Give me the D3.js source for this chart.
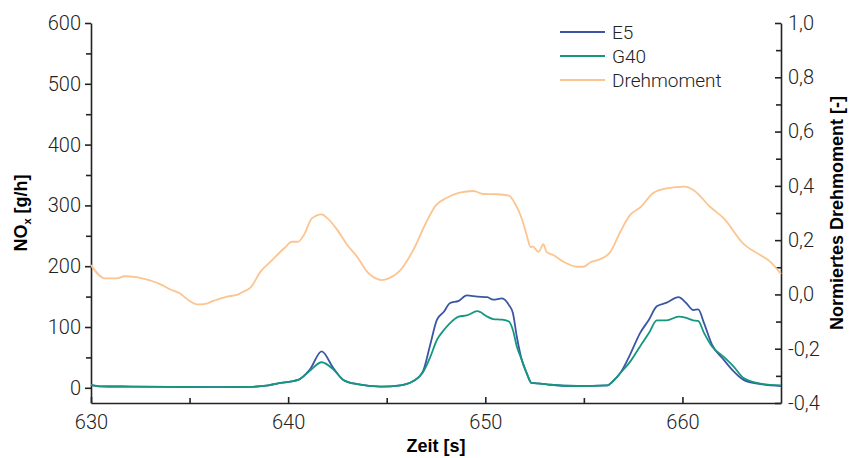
<!DOCTYPE html>
<html>
<head>
<meta charset="utf-8">
<script src="https://cdn.jsdelivr.net/npm/d3@7"></script>
<style>
  body { margin: 0; background: #fff; }
  svg { display: block; }
  .tick text { font-family: Roboto, "Liberation Sans", sans-serif; font-weight: 300; font-size: 20px; fill: #222; }
  .title { font-family: "Liberation Sans", Arial, sans-serif; font-weight: bold; font-size: 18px; fill: #000; }
  .legend text { font-family: Roboto, "Liberation Sans", sans-serif; font-weight: 300; font-size: 19px; fill: #222; }
</style>
</head>
<body>
<svg id="chart" width="850" height="458"></svg>
<script>
// tick values
const timeTicks = [630, 640, 650, 660];
const noxTicks = [0, 100, 200, 300, 400, 500, 600];
const torqueTicks = [-0.4, -0.2, 0.0, 0.2, 0.4, 0.6, 0.8, 1.0];

// E5 NOx [g/h]
const e5Time = [630, 630.5, 632, 634, 636, 638, 639, 639.6, 640.5, 641.1, 641.7, 642.3, 642.8, 643.5, 644.7, 645.7,
  646.35, 646.85, 647.2, 647.55, 647.9, 648.2, 648.65, 649.06, 649.6, 650.1, 650.4, 650.85, 651.2, 651.4, 651.6,
  651.85, 652.1, 652.35, 652.8, 653.3, 654.65, 656.2, 656.45, 656.9, 657.35, 657.85, 658.3, 658.7, 659.2, 659.8,
  660.2, 660.55, 660.8, 661.1, 661.5, 662.1, 662.6, 663.1, 663.95, 665];
const e5Nox = [5, 2.5, 2, 1.5, 1, 1.5, 4, 8, 13, 30, 60, 32, 13, 6, 2, 4,
  11, 28, 70, 112, 125, 139, 143, 152, 150, 149, 145, 147, 136, 123, 84,
  46, 24, 8, 7, 5, 3, 4, 10, 27, 55, 90, 112, 134, 140, 149,
  139, 128, 129, 106, 71, 46, 27, 13, 6, 3];

// G40 NOx [g/h]
const g40Time = e5Time;
const g40Nox = [5, 2.5, 2, 1.5, 1, 1.5, 4, 8, 13, 28, 42, 30, 13, 6, 2, 4,
  11, 26, 50, 79, 95, 106, 117, 119, 126, 117, 113, 112, 109, 95, 68,
  46, 24, 8, 7, 5, 3, 4, 10, 26, 43, 68, 90, 111, 111, 117,
  115, 111, 110, 90, 68, 51, 35, 16, 7, 4];

// normalised torque [-]
const torqueTime = [630, 630.7, 631.3, 631.7, 632.2, 632.7, 633.5, 634, 634.5, 635, 635.4, 635.8, 636.2, 636.9,
  637.4, 637.7, 638.1, 638.6, 639.2, 639.8, 640.2, 640.5, 640.8, 641.2, 641.7, 642.0, 642.5, 643.0, 643.5,
  644.0, 644.3, 644.75, 645.1, 645.7, 646.35, 647.0, 647.5, 648.0, 648.7, 649.4, 649.9, 650.6, 651.2, 651.5,
  651.85, 652.1, 652.3, 652.4, 652.7, 652.95, 653.1, 653.45, 653.95, 654.65, 655.0, 655.3, 655.8, 656.35,
  656.85, 657.35, 657.9, 658.5, 659.2, 660.1, 660.55, 661.4, 662.1, 663.1, 663.95, 664.45, 665];
const torqueVal = [0.108, 0.059, 0.059, 0.067, 0.065, 0.057, 0.038, 0.019, 0.004, -0.024, -0.037, -0.035, -0.024,
  -0.008, -0.002, 0.009, 0.026, 0.084, 0.127, 0.170, 0.194, 0.194, 0.219, 0.280, 0.295, 0.280, 0.237, 0.182,
  0.139, 0.084, 0.065, 0.053, 0.059, 0.090, 0.164, 0.265, 0.329, 0.354, 0.375, 0.381, 0.370, 0.369, 0.364,
  0.336, 0.280, 0.219, 0.174, 0.177, 0.157, 0.185, 0.157, 0.145, 0.121, 0.102, 0.102, 0.117, 0.129, 0.157,
  0.231, 0.293, 0.323, 0.373, 0.391, 0.397, 0.385, 0.323, 0.280, 0.186, 0.145, 0.121, 0.075];

const seriesNames = ["E5", "G40", "Drehmoment"];
const seriesColors = ["#3c56a5", "#14977e", "#fcc48f"];

function createChart() {
  let svg = d3.select("#chart");
  let margin = { top: 23, bottom: 55, left: 91, right: 69 };
  let innerWidth = 850 - margin.left - margin.right;
  let innerHeight = 458 - margin.top - margin.bottom;

  let x = d3.scaleLinear().domain([630, 665]).range([0, innerWidth]);
  let yLeft = d3.scaleLinear().domain([-25, 600]).range([innerHeight, 0]);
  let yRight = d3.scaleLinear().domain([-0.4, 1.0]).range([innerHeight, 0]);

  let g = svg.append("g").attr("transform", `translate(${margin.left},${margin.top})`);

  // minor ticks
  g.append("g")
    .attr("transform", `translate(0,${innerHeight})`)
    .call(d3.axisBottom(x).tickValues(d3.range(635, 665, 10)).tickSize(-5).tickFormat(""))
    .call((a) => a.select(".domain").remove());
  g.append("g")
    .call(d3.axisLeft(yLeft).tickValues(d3.range(50, 600, 100)).tickSize(5).tickFormat(""))
    .call((a) => a.select(".domain").remove());
  g.append("g")
    .attr("transform", `translate(${innerWidth},0)`)
    .call(d3.axisRight(yRight).tickValues([-0.3, -0.1, 0.1, 0.3, 0.5, 0.7, 0.9]).tickSize(-5).tickFormat(""))
    .call((a) => a.select(".domain").remove());

  // main axes
  let xAxis = g.append("g")
    .attr("transform", `translate(0,${innerHeight})`)
    .call(d3.axisBottom(x).tickValues(timeTicks).tickSizeInner(-6).tickSizeOuter(0).tickPadding(12));
  xAxis.selectAll("text").attr("dy", "0.71em");

  g.append("g")
    .call(d3.axisLeft(yLeft).tickValues(noxTicks).tickSizeInner(6).tickSizeOuter(0).tickPadding(4));

  g.append("g")
    .attr("transform", `translate(${innerWidth},0)`)
    .call(d3.axisRight(yRight).tickValues(torqueTicks).tickSizeInner(-6).tickSizeOuter(0).tickPadding(7)
      .tickFormat((d) => d3.format(".1f")(d).replace(".", ",").replace("−", "-")));

  svg.selectAll(".domain, .tick line").attr("stroke", "#222").attr("stroke-width", 1.6);

  // lines
  let lineL = d3.line().x((d) => x(d[0])).y((d) => yLeft(d[1])).curve(d3.curveMonotoneX);
  let lineR = d3.line().x((d) => x(d[0])).y((d) => yRight(d[1])).curve(d3.curveMonotoneX);

  g.append("path")
    .datum(d3.zip(torqueTime, torqueVal))
    .attr("fill", "none").attr("stroke", seriesColors[2]).attr("stroke-width", 1.8)
    .attr("d", lineR);
  g.append("path")
    .datum(d3.zip(e5Time, e5Nox))
    .attr("fill", "none").attr("stroke", seriesColors[0]).attr("stroke-width", 1.8)
    .attr("d", lineL);
  g.append("path")
    .datum(d3.zip(g40Time, g40Nox))
    .attr("fill", "none").attr("stroke", seriesColors[1]).attr("stroke-width", 1.8)
    .attr("d", lineL);

  // axis titles
  svg.append("text").attr("class", "title")
    .attr("x", margin.left + x(647.5)).attr("y", 452)
    .attr("text-anchor", "middle").text("Zeit [s]");

  let leftTitle = svg.append("text").attr("class", "title")
    .attr("transform", `translate(27,${margin.top + innerHeight / 2}) rotate(-90)`)
    .attr("text-anchor", "middle");
  leftTitle.append("tspan").text("NO");
  leftTitle.append("tspan").attr("font-size", "11px").attr("dy", "4").text("x");
  leftTitle.append("tspan").attr("dy", "-4").text(" [g/h]");

  svg.append("text").attr("class", "title")
    .attr("transform", `translate(843,${margin.top + innerHeight / 2}) rotate(-90)`)
    .attr("text-anchor", "middle").text("Normiertes Drehmoment [-]");

  // legend
  let legend = svg.append("g").attr("class", "legend").attr("transform", "translate(560,32)");
  seriesNames.forEach((name, i) => {
    legend.append("line")
      .attr("x1", 0).attr("x2", 45).attr("y1", i * 24).attr("y2", i * 24)
      .attr("stroke", seriesColors[i]).attr("stroke-width", 2);
    legend.append("text")
      .attr("x", 52).attr("y", i * 24).attr("dy", "0.35em").text(name);
  });
}

createChart();
</script>
</body>
</html>
